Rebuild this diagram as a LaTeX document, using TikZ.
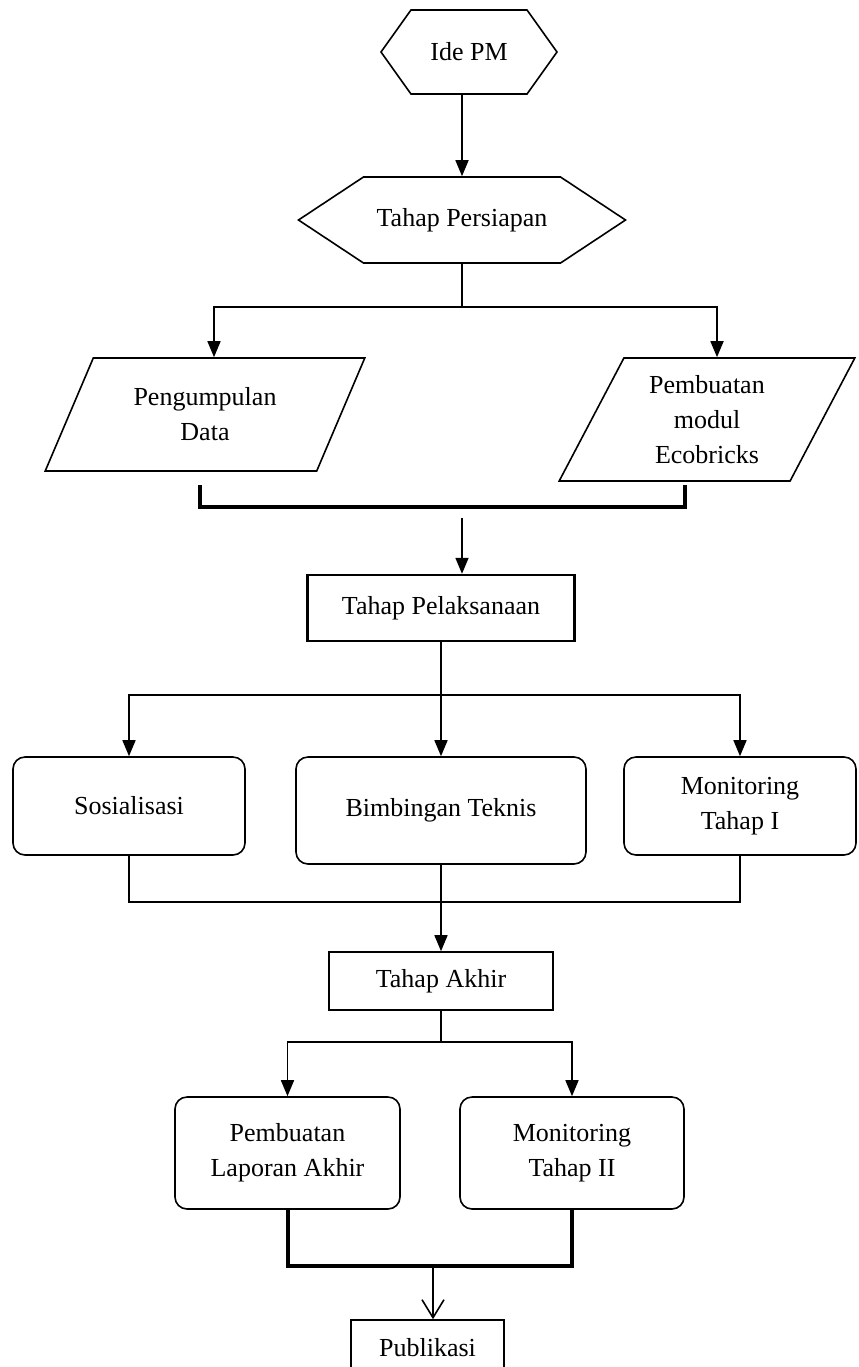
\documentclass[tikz,border=0pt]{standalone}
\usepackage{fontspec}
\setmainfont{Liberation Serif}
\usetikzlibrary{shapes.geometric,shapes.symbols,arrows.meta}

\begin{document}
\begin{tikzpicture}[x=0.5pt,y=-0.5pt,
    font=\fontsize{13}{17.5}\selectfont,
    conn/.style={draw=black,line width=0.8pt},
    connarrow/.style={conn,-{Triangle[length=8pt,width=6.5pt]}},
    thickline/.style={draw=black,line width=2pt},
    hexa/.style={shape=signal,signal to=west and east,draw=black,line width=0.8pt,inner sep=0pt},
    para/.style={shape=trapezium,trapezium stretches=true,draw=black,line width=0.8pt,align=center,inner sep=0pt},
    box/.style={shape=rectangle,draw=black,line width=0.8pt,align=center},
    rbox/.style={box,rounded corners=6pt}]
    \clip (0,0) rectangle (858,1367);

    \node[hexa,signal pointer angle=109,minimum width=88pt,minimum height=42pt] (idepm) at (469,52) {Ide PM};
    \node[hexa,signal pointer angle=67,minimum width=163.5pt,minimum height=43pt] (persiapan) at (462,220) {Tahap Persiapan};
    \node[para,trapezium left angle=60,trapezium right angle=120,minimum width=160pt,minimum height=56.5pt] (data) at (205,414.5) {Pengumpulan\\Data};
    \node[para,trapezium left angle=63,trapezium right angle=117,minimum width=148pt,minimum height=61.5pt] (modul) at (707,419.5) {Pembuatan\\modul\\Ecobricks};
    \node[box,line width=1.2pt,minimum width=133.5pt,minimum height=33pt] (pelaksanaan) at (441,608) {Tahap Pelaksanaan};
    \node[rbox,minimum width=116pt,minimum height=49pt] (sosialisasi) at (129,806) {Sosialisasi};
    \node[rbox,minimum width=145pt,minimum height=53.5pt] (bimbingan) at (441,810.5) {Bimbingan Teknis};
    \node[rbox,minimum width=116pt,minimum height=49pt] (monitoring1) at (740,806) {Monitoring\\Tahap I};
    \node[box,minimum width=112pt,minimum height=29pt] (akhir) at (441,981) {Tahap Akhir};
    \node[rbox,minimum width=112.5pt,minimum height=56pt] (laporan) at (287.5,1153) {Pembuatan\\Laporan Akhir};
    \node[rbox,minimum width=112pt,minimum height=56pt] (monitoring2) at (572,1153) {Monitoring\\Tahap II};
    \node[box,minimum width=76.5pt,minimum height=28pt] (publikasi) at (427.5,1348) {Publikasi};

    \coordinate (split1) at (462,307);
    \coordinate (bracketl) at (200,485);
    \coordinate (bracketr) at (685,485);
    \coordinate (join1) at (462,518);
    \coordinate (split2) at (441,695);
    \coordinate (merge2) at (441,902);
    \coordinate (split3) at (441,1042);
    \coordinate (merge3) at (433,1266);

    \draw[connarrow] (persiapan |- idepm.south) -- (persiapan);
    \draw[conn] (persiapan) -- (split1);
    \draw[connarrow] (split1) -| ([xshift=4.5pt]data.north);
    \draw[connarrow] (split1) -| ([xshift=5pt]modul.north);
    \draw[thickline] (bracketl) -- ++(0,22) -| (bracketr);
    \draw[connarrow] (join1) -- (join1 |- pelaksanaan.north);
    \draw[connarrow] (pelaksanaan) -- (bimbingan);
    \draw[connarrow] (split2) -| (sosialisasi);
    \draw[connarrow] (split2) -| (monitoring1);
    \draw[conn] (sosialisasi) |- (merge2) -| (monitoring1);
    \draw[connarrow] (bimbingan) -- (akhir);
    \draw[conn] (akhir) -- (split3);
    \draw[connarrow] (split3) -| (laporan);
    \draw[connarrow] (split3) -| (monitoring2);
    \draw[thickline] (laporan) |- (merge3) -| (monitoring2);
    \draw[conn,-{Straight Barb[length=9pt,width=11pt]}] (merge3) -- (merge3 |- publikasi.north);

\end{tikzpicture}
\end{document}
